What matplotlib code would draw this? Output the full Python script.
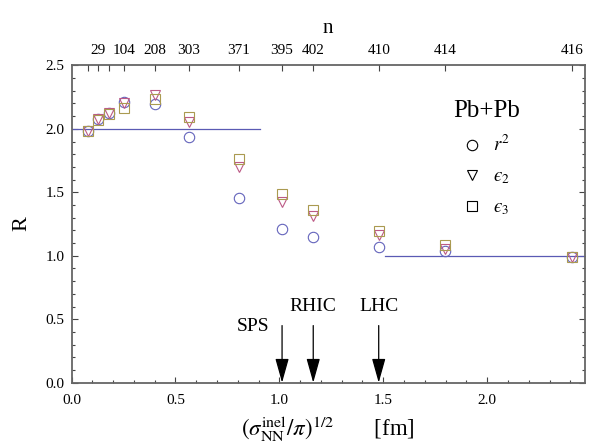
import matplotlib
matplotlib.use('Agg')
import matplotlib.pyplot as plt
from matplotlib.ticker import MultipleLocator

plt.rcParams['font.family'] = ['Liberation Serif', 'DejaVu Serif']
plt.rcParams['mathtext.fontset'] = 'stix'

# (sigma_NN^inel / pi)^(1/2) in fm
x_sig = [0.078, 0.126, 0.179, 0.252, 0.401, 0.565, 0.805, 1.013, 1.163, 1.478, 1.796, 2.408]
# top axis labels (n)
n_labels = ['', '29', '', '104', '208', '303', '371', '395', '402', '410', '414', '416']

# ratios R
r2 = [1.984, 2.078, 2.127, 2.208, 2.193, 1.933, 1.455, 1.211, 1.150, 1.069, 1.035, 0.990]
eps2 = [1.981, 2.074, 2.128, 2.200, 2.267, 2.055, 1.698, 1.421, 1.310, 1.161, 1.057, 0.990]
eps3 = [1.985, 2.067, 2.114, 2.165, 2.232, 2.094, 1.759, 1.485, 1.358, 1.193, 1.085, 0.990]

# reference levels
low_x = [0.0, 0.905]
low_y = [2.0, 2.0]
high_x = [1.507, 2.47]
high_y = [1.0, 1.0]

# collider arrows
coll_names = ['SPS', 'RHIC', 'LHC']
coll_x = [1.013, 1.163, 1.478]

c_r2 = '#6464bc'
c_e2 = '#bc5a86'
c_e3 = '#aa9a50'

fig = plt.figure(figsize=(5.92, 4.47), dpi=100)
ax = fig.add_axes([0.1208, 0.1439, 0.8672, 0.7098])

ax.plot(low_x, low_y, color='#5a5ab4', lw=0.9)
ax.plot(high_x, high_y, color='#5a5ab4', lw=0.9)

ax.plot(x_sig, r2, ls='none', marker='o', ms=7.5, mfc='none', mec=c_r2, mew=0.8, label='$r^2$')
ax.plot(x_sig, eps2, ls='none', marker='v', ms=7.5, mfc='none', mec=c_e2, mew=0.8, label='$\u03f5_2$')
ax.plot(x_sig, eps3, ls='none', marker='s', ms=6.5, mfc='none', mec=c_e3, mew=0.8, label='$\u03f5_3$')

# arrows for SPS, RHIC, LHC
for name, xc in zip(coll_names, coll_x):
    ax.annotate('', xy=(xc, 0.0), xytext=(xc, 0.45),
                arrowprops=dict(arrowstyle='-|>,head_length=1.5,head_width=0.42',
                                color='black', lw=0.9, shrinkA=0, shrinkB=0,
                                mutation_scale=10))
ax.text(0.873, 0.44, coll_names[0], ha='center', va='center', fontsize=14)
ax.text(coll_x[1], 0.60, coll_names[1], ha='center', va='center', fontsize=14)
ax.text(coll_x[2], 0.60, coll_names[2], ha='center', va='center', fontsize=14)

ax.set_xlim(0, 2.47)
ax.set_ylim(0, 2.5)
ax.xaxis.set_major_locator(MultipleLocator(0.5))
ax.xaxis.set_minor_locator(MultipleLocator(0.1))
ax.yaxis.set_major_locator(MultipleLocator(0.5))
ax.yaxis.set_minor_locator(MultipleLocator(0.1))
ax.xaxis.set_major_formatter(plt.FormatStrFormatter('%.1f'))
ax.yaxis.set_major_formatter(plt.FormatStrFormatter('%.1f'))
ax.tick_params(which='both', direction='in', right=True, top=False,
               labelsize=11, color='#444444', pad=5)
ax.tick_params(axis='x', pad=8)
ax.tick_params(which='major', length=4, width=0.8)
ax.tick_params(which='minor', length=2.5, width=0.8)

for s in ax.spines.values():
    s.set_color('#666666')
    s.set_linewidth(1.3)

ax.set_xlabel(r'$(\sigma_{\rm NN}^{\rm inel}/\pi)^{1/2}$       [fm]', fontsize=16.5, labelpad=5)
ax.set_ylabel('R', fontsize=16, labelpad=10)

# top axis with n
top = ax.twiny()
top.set_xlim(ax.get_xlim())
top.set_xticks(x_sig)
top.set_xticklabels(n_labels)
top.tick_params(direction='in', length=4, width=0.8, labelsize=11, color='#444444', pad=6)
top.set_xlabel('n', fontsize=15, labelpad=8)
for s in top.spines.values():
    s.set_visible(False)

leg = ax.legend(title='Pb+Pb', loc='upper left', bbox_to_anchor=(0.71, 0.945),
                frameon=False, fontsize=13.5, title_fontsize=18, numpoints=1,
                handlelength=1.0, handletextpad=0.6, labelspacing=0.7)
leg._legend_box.align = 'center'
for h in leg.legend_handles:
    h.set_color('black')
    h.set_markeredgecolor('black')

fig.savefig('out.png', dpi=100)
